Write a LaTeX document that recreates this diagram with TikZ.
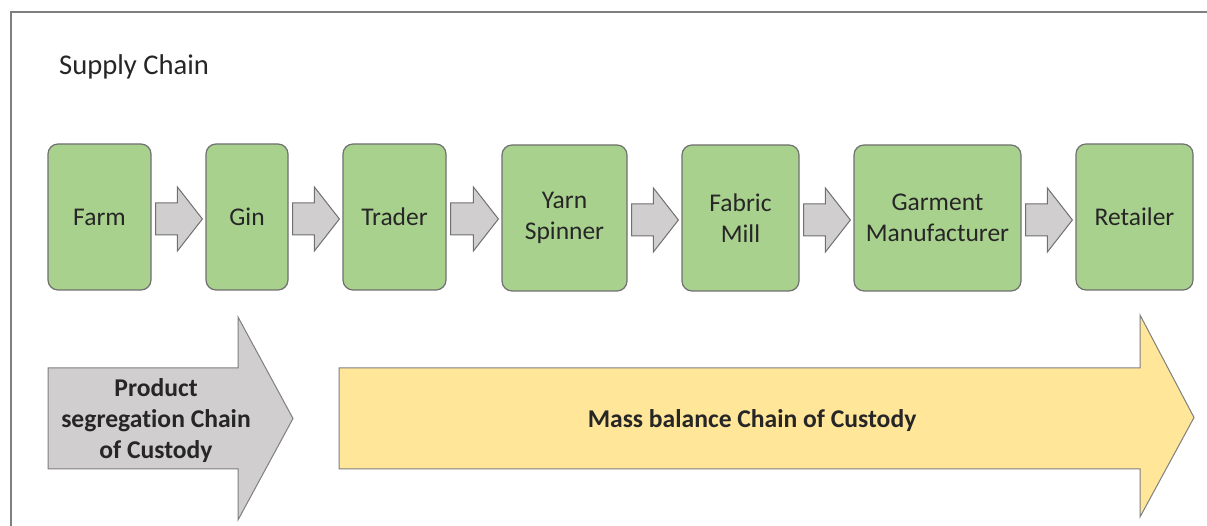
\documentclass[tikz,border=0pt]{standalone}
\usepackage{fontspec}
\setmainfont{Carlito}[Ligatures=NoCommon]
\usetikzlibrary{calc}
\definecolor{boxgreen}{HTML}{A9D18E}
\definecolor{boxline}{HTML}{707070}
\definecolor{arrgray}{HTML}{D0CECE}
\definecolor{arryellow}{HTML}{FFE699}
\definecolor{txt}{HTML}{262626}
\definecolor{frame}{HTML}{7F7F7F}
\tikzset{
  stage/.style={draw=boxline, line width=1.2pt, fill=boxgreen, rounded corners=10pt,
    minimum height=146pt, inner sep=0pt, align=center, text=txt,
    font=\fontsize{25.5}{31}\selectfont},
  flowarrow/.style={draw=boxline, line width=1pt, fill=arrgray},
  bigarrow/.style={draw=frame, line width=1pt},
  bigtext/.style={align=center, text=txt, font=\fontsize{25.6}{31}\selectfont\bfseries},
}
\newcommand\flowarrow[2]{%
  \draw[flowarrow] let \p1=(#1.east), \p2=(#2.west) in
    (\x1+4pt,\y1-18pt) -- (\x2-28pt,\y1-18pt) -- (\x2-28pt,\y1-34pt) --
    (\x2-3pt,\y1-2pt) -- (\x2-28pt,\y1+30pt) -- (\x2-28pt,\y1+14pt) --
    (\x1+4pt,\y1+14pt) -- cycle;}
\begin{document}
\begin{tikzpicture}[x=1pt,y=1pt]
\useasboundingbox (0,0) rectangle (1207,526);
\fill[white] (0,0) rectangle (1207,526);
% frame
\draw[frame, line width=2pt] (10.5,-5) -- (10.5,513.5) -- (1215,513.5);
% title
\node[anchor=base west, inner sep=0pt, text=txt, font=\fontsize{28.6}{31}\selectfont] (title) at (59,451) {Supply Chain};
% stages
\node[stage, minimum width=103pt] (farm) at (99.5,309) {Farm};
\node[stage, minimum width=82pt] (gin) at (247,309) {Gin};
\node[stage, minimum width=103pt] (trader) at (394.5,309) {Trader};
\node[stage, minimum width=125pt] (yarn) at (564.5,308) {Yarn\\Spinner};
\node[stage, minimum width=117pt] (fabric) at (740.5,308) {Fabric\\Mill};
\node[stage, minimum width=167pt] (garment) at (937.5,308) {Garment\\Manufacturer};
\node[stage, minimum width=117pt] (retailer) at (1134.5,309) {Retailer};
% flow arrows
\flowarrow{farm}{gin}
\flowarrow{gin}{trader}
\flowarrow{trader}{yarn}
\flowarrow{yarn}{fabric}
\flowarrow{fabric}{garment}
\flowarrow{garment}{retailer}
% big arrows
\draw[bigarrow, fill=arrgray] (48,57) -- (238,57) -- (238,6) -- (293,107.5) -- (238,209) -- (238,158) -- (48,158) -- cycle;
\draw[bigarrow, fill=arryellow] (339,57) -- (1140,57) -- (1140,9) -- (1194,108.5) -- (1140,211) -- (1140,158) -- (339,158) -- cycle;
\node[bigtext] (seg) at (156,105) {Product\\segregation Chain\\of Custody};
\node[bigtext] (mass) at (752,105) {Mass balance Chain of Custody};
\end{tikzpicture}
\end{document}
